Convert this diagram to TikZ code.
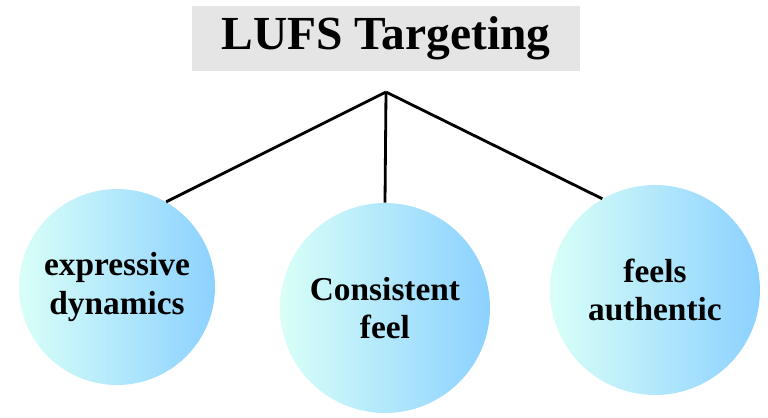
\documentclass[tikz,border=0pt]{standalone}
\usepackage{fontspec}
\setmainfont{Liberation Serif}
\usetikzlibrary{positioning}
\begin{document}
\begin{tikzpicture}
                [x=0.02cm, y=-0.02cm,
                 bubble/.style = {circle, inner sep=0pt, left color=green!20!cyan!15, right color=blue!40!cyan!45, align=center, font=\fontsize{19}{22}\selectfont\bfseries},
                 link/.style = {line width=1.6pt, black}]
                \useasboundingbox (0,0) rectangle (768,417);
                % Title
                \node[fill=gray!20, minimum width=7.76cm, minimum height=1.3cm, font=\fontsize{27}{30}\selectfont\bfseries] (title) at (386,38) {LUFS Targeting};
                \coordinate (hub) at (386,92);
                % Bubbles
                \node[bubble, minimum size=3.92cm] (expr) at (117,287) {expressive\\dynamics};
                \node[bubble, minimum size=4.2cm] (cons) at (385,308) {Consistent\\feel};
                \node[bubble, minimum size=4.2cm] (auth) at (655,290) {feels\\authentic};
                % Lines
                \draw[link] (hub) -- (expr.60);
                \draw[link] (hub) -- (cons.north);
                \draw[link] (hub) -- (auth.120);
            \end{tikzpicture}
\end{document}
